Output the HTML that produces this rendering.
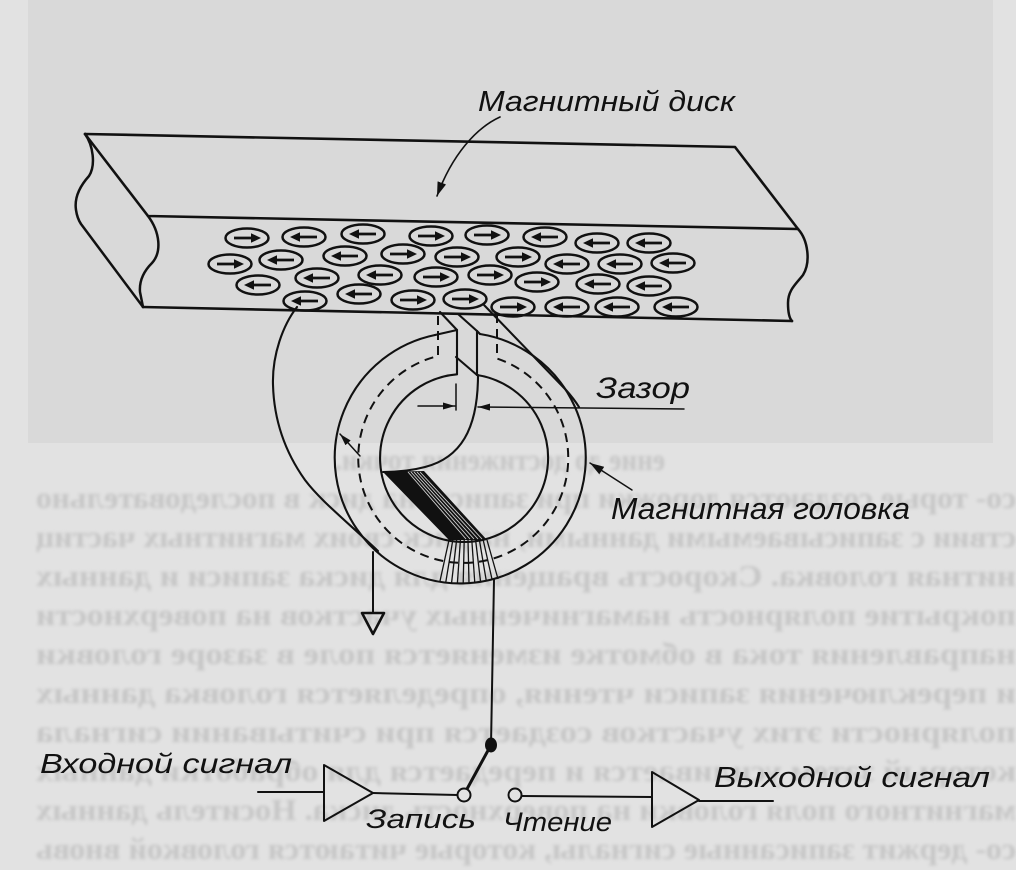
<!DOCTYPE html>
<html>
<head>
<meta charset="utf-8">
<style>
html,body{margin:0;padding:0;background:#e2e2e2;}
svg{display:block;}
.lbl{font-family:"Liberation Sans","DejaVu Sans",sans-serif;font-style:italic;fill:#111;}
.bleed{font-family:"Liberation Serif","DejaVu Serif",serif;font-weight:bold;font-size:31px;fill:#c6c6c6;}
</style>
</head>
<body>
<svg width="1016" height="870" viewBox="0 0 1016 870" xmlns="http://www.w3.org/2000/svg">
<defs>
  <filter id="blur" x="-5%" y="-20%" width="110%" height="140%"><feGaussianBlur stdDeviation="1.6"/></filter>
  <marker id="ah" markerUnits="userSpaceOnUse" markerWidth="14" markerHeight="9" refX="14" refY="4.5" orient="auto">
    <path d="M0,0 L14,4.5 L0,9 z" fill="#111"/>
  </marker>
  <marker id="ahs" markerUnits="userSpaceOnUse" markerWidth="12" markerHeight="7" refX="12" refY="3.5" orient="auto">
    <path d="M0,0 L12,3.5 L0,7 z" fill="#111"/>
  </marker>
  <g id="eR">
    <ellipse cx="0" cy="0" rx="21.5" ry="9.5" fill="none" stroke="#111" stroke-width="2.5"/>
    <line x1="-13" y1="0" x2="5" y2="0" stroke="#111" stroke-width="2.7"/>
    <polygon points="14,0 4,-4.8 4,4.8" fill="#111"/>
  </g>
  <g id="eL"><use href="#eR" transform="scale(-1,1)"/></g>
</defs>

<!-- background -->
<rect x="0" y="0" width="1016" height="870" fill="#e2e2e2"/>
<rect x="28" y="0" width="965" height="443" fill="#d9d9d9"/>

<!-- bleed-through text (mirrored) -->
<g filter="url(#blur)">
  <text class="bleed" transform="scale(-1,1)" x="-665" y="470" textLength="330" lengthAdjust="spacingAndGlyphs">ение до достижения точки.</text>
  <text class="bleed" transform="scale(-1,1)" x="-1016" y="508" textLength="980" lengthAdjust="spacingAndGlyphs">со- торые создаются дорожки при записи, на диск в последовательно</text>
  <text class="bleed" transform="scale(-1,1)" x="-1016" y="547" textLength="980" lengthAdjust="spacingAndGlyphs">ствии с записываемыми данными, на диск своих магнитных частиц</text>
  <text class="bleed" transform="scale(-1,1)" x="-1016" y="586" textLength="980" lengthAdjust="spacingAndGlyphs">нитная головка. Скорость вращения для диска записи и данных</text>
  <text class="bleed" transform="scale(-1,1)" x="-1016" y="625" textLength="980" lengthAdjust="spacingAndGlyphs">покрытие полярность намагниченных участков на поверхности</text>
  <text class="bleed" transform="scale(-1,1)" x="-1016" y="664" textLength="980" lengthAdjust="spacingAndGlyphs">направления тока в обмотке изменяется поле в зазоре головки</text>
  <text class="bleed" transform="scale(-1,1)" x="-1016" y="703" textLength="980" lengthAdjust="spacingAndGlyphs">и переключения записи чтения, определяется головка данных</text>
  <text class="bleed" transform="scale(-1,1)" x="-1016" y="742" textLength="980" lengthAdjust="spacingAndGlyphs">полярности этих участков создается при считывании сигнала</text>
  <text class="bleed" transform="scale(-1,1)" x="-1016" y="781" textLength="980" lengthAdjust="spacingAndGlyphs">который затем усиливается и передается для обработки данных</text>
  <text class="bleed" transform="scale(-1,1)" x="-1016" y="820" textLength="980" lengthAdjust="spacingAndGlyphs">магнитного поля головки на поверхность диска. Носитель данных</text>
  <text class="bleed" transform="scale(-1,1)" x="-1016" y="859" textLength="980" lengthAdjust="spacingAndGlyphs">со- держит записанные сигналы, которые читаются головкой вновь</text>
</g>

<g fill="none" stroke="#111" stroke-linejoin="round" stroke-linecap="round">
  <!-- disk -->
  <path d="M85,134 L735,147 L798,229" stroke-width="2.6"/>
  <path d="M85,134 L148,216 L798,229" stroke-width="2.6"/>
  <path d="M143,307 L792,321" stroke-width="2.6"/>
  <path d="M148,216 C160,232 162,252 152,263 C144,271 139,280 140,292 L143,307" stroke-width="2.5"/>
  <path d="M85,134 C93,145 96,165 89,176 C80,186 74,197 76,210 C77,217 79,221 81,224 L143,307" stroke-width="2.5"/>
  <path d="M798,229 C808,240 811,262 803,275 C796,284 788,290 788,303 C788,312 789,318 792,321" stroke-width="2.5"/>

  <!-- leader disk -->
  <path d="M500,117 C476,128 452,155 437,196" stroke-width="1.6" marker-end="url(#ah)"/>
</g>

<!-- magnetized domains -->
<g>
  <use href="#eR" x="247" y="238"/>
  <use href="#eL" x="304" y="237"/>
  <use href="#eL" x="363" y="234"/>
  <use href="#eR" x="431" y="236"/>
  <use href="#eR" x="487" y="235"/>
  <use href="#eL" x="545" y="237"/>
  <use href="#eL" x="597" y="243"/>
  <use href="#eL" x="649" y="243"/>

  <use href="#eR" x="230" y="264"/>
  <use href="#eL" x="281" y="260"/>
  <use href="#eL" x="345" y="256"/>
  <use href="#eR" x="403" y="254"/>
  <use href="#eR" x="457" y="257"/>
  <use href="#eR" x="518" y="257"/>
  <use href="#eL" x="567" y="264"/>
  <use href="#eL" x="620" y="264"/>
  <use href="#eL" x="673" y="263"/>

  <use href="#eL" x="258" y="285"/>
  <use href="#eL" x="317" y="278"/>
  <use href="#eL" x="380" y="275"/>
  <use href="#eR" x="436" y="277"/>
  <use href="#eR" x="490" y="275"/>
  <use href="#eR" x="537" y="282"/>
  <use href="#eL" x="598" y="284"/>
  <use href="#eL" x="649" y="286"/>

  <use href="#eL" x="305" y="301"/>
  <use href="#eL" x="359" y="294"/>
  <use href="#eR" x="413" y="300"/>
  <use href="#eR" x="465" y="299"/>
  <use href="#eR" x="513" y="307"/>
  <use href="#eL" x="567" y="307"/>
  <use href="#eL" x="617" y="307"/>
  <use href="#eL" x="676" y="307"/>
</g>

<!-- head -->
<g fill="none" stroke="#111" stroke-linejoin="round" stroke-linecap="round" stroke-width="2.1">
  <!-- outer ring -->
  <path d="M435,335 A125.5,125.5 0 1 0 480,334"/>
  <path d="M435,335 L457,330 L457,374"/>
  <path d="M477,331 L480,334"/>
  <path d="M477,331 L477,375"/>
  <!-- lines from disk to poles -->
  <path d="M440,312 L457,330"/>
  <path d="M458,314 L477,331"/>
  <path d="M456,357 L477,375"/>
  <!-- inner circle -->
  <path d="M457,374.3 A84,84 0 1 0 477,375"/>
  <!-- inner curve -->
  <path d="M478,375 C478,430 460,458 425,467 C410,471 395,472 383,472"/>
  <!-- left big loop -->
  <path d="M297,307 C283,325 272,355 273,385 C274,420 285,452 305,480 C320,500 345,520 378,551"/>
  <!-- right diagonal -->
  <path d="M484,305 L566,390 Q574,399 579,407"/>
  <!-- dashed flux path -->
  <path d="M438,316 L438,356 A105,105 0 1 0 497,358.5 L497,316" stroke-dasharray="9 6" stroke-linecap="butt" stroke-width="2"/>
</g>

<!-- coil -->
<polygon points="383,472 424,471 487,540 449,540" fill="#111"/>
<g stroke="#d4d4d4" stroke-width="0.9">
  <line x1="408" y1="472" x2="466" y2="539"/>
  <line x1="411" y1="472" x2="470" y2="539"/>
  <line x1="414" y1="472" x2="474" y2="539"/>
  <line x1="417" y1="472" x2="478" y2="539"/>
  <line x1="420" y1="472" x2="482" y2="539"/>
</g>
<g stroke="#111" stroke-width="1.3">
  <line x1="449" y1="540" x2="440" y2="581"/>
  <line x1="452.8" y1="540" x2="445.8" y2="582"/>
  <line x1="456.6" y1="540" x2="451.6" y2="582.5"/>
  <line x1="460.4" y1="540" x2="457.4" y2="583"/>
  <line x1="464.2" y1="540" x2="463.2" y2="583"/>
  <line x1="468" y1="540" x2="469" y2="583"/>
  <line x1="471.8" y1="540" x2="474.8" y2="583"/>
  <line x1="475.6" y1="540" x2="480.6" y2="582"/>
  <line x1="479.4" y1="540" x2="486.4" y2="581.5"/>
  <line x1="483.2" y1="540" x2="492.2" y2="580"/>
  <line x1="487" y1="540" x2="498" y2="579"/>
</g>

<g fill="none" stroke="#111" stroke-linecap="round" stroke-linejoin="round">
  <!-- flux arrow -->
  <path d="M360,456 L340,434" stroke-width="1.5" marker-end="url(#ahs)"/>
  <!-- gap dimension -->
  <path d="M456,384 L456,410" stroke-width="1.5"/>
  <path d="M418,406 L455,406" stroke-width="1.5" marker-end="url(#ahs)"/>
  <path d="M684,409 L478,407" stroke-width="1.5" marker-end="url(#ahs)"/>
  <!-- head leader -->
  <path d="M632,490 L590,463" stroke-width="1.5" marker-end="url(#ah)"/>
  <!-- ground -->
  <path d="M373,552 L373,613" stroke-width="2"/>
  <polygon points="362,613 384,613 373,634" stroke-width="2.6"/>
  <!-- coil wire -->
  <path d="M494,580 L491,745" stroke-width="2"/>
  <!-- switch blade -->
  <path d="M491,745 L467,789" stroke-width="3"/>
  <!-- input chain -->
  <path d="M258,792 L324,792" stroke-width="2"/>
  <polygon points="324,765 324,821 373,793" stroke-width="2"/>
  <path d="M373,793 L457.5,795" stroke-width="2"/>
  <circle cx="464" cy="795" r="6.5" stroke-width="2" fill="#e2e2e2"/>
  <!-- output chain -->
  <circle cx="515" cy="795" r="6.5" stroke-width="2" fill="#e2e2e2"/>
  <path d="M521.5,796 L652,797" stroke-width="2"/>
  <polygon points="652,772 652,827 699,800" stroke-width="2"/>
  <path d="M699,801 L773,801" stroke-width="2"/>
</g>
<ellipse cx="491" cy="745" rx="6" ry="7.5" fill="#111"/>

<!-- labels -->
<text class="lbl" x="478" y="111" font-size="29" textLength="257" lengthAdjust="spacingAndGlyphs">Магнитный диск</text>
<text class="lbl" x="596" y="398" font-size="30" textLength="94" lengthAdjust="spacingAndGlyphs">Зазор</text>
<text class="lbl" x="611" y="519" font-size="31" textLength="299" lengthAdjust="spacingAndGlyphs">Магнитная головка</text>
<text class="lbl" x="40" y="773" font-size="28" textLength="252" lengthAdjust="spacingAndGlyphs">Входной сигнал</text>
<text class="lbl" x="366" y="828" font-size="27" textLength="110" lengthAdjust="spacingAndGlyphs">Запись</text>
<text class="lbl" x="503" y="831" font-size="27" textLength="109" lengthAdjust="spacingAndGlyphs">Чтение</text>
<text class="lbl" x="714" y="787" font-size="29" textLength="276" lengthAdjust="spacingAndGlyphs">Выходной сигнал</text>
</svg>
</body>
</html>
